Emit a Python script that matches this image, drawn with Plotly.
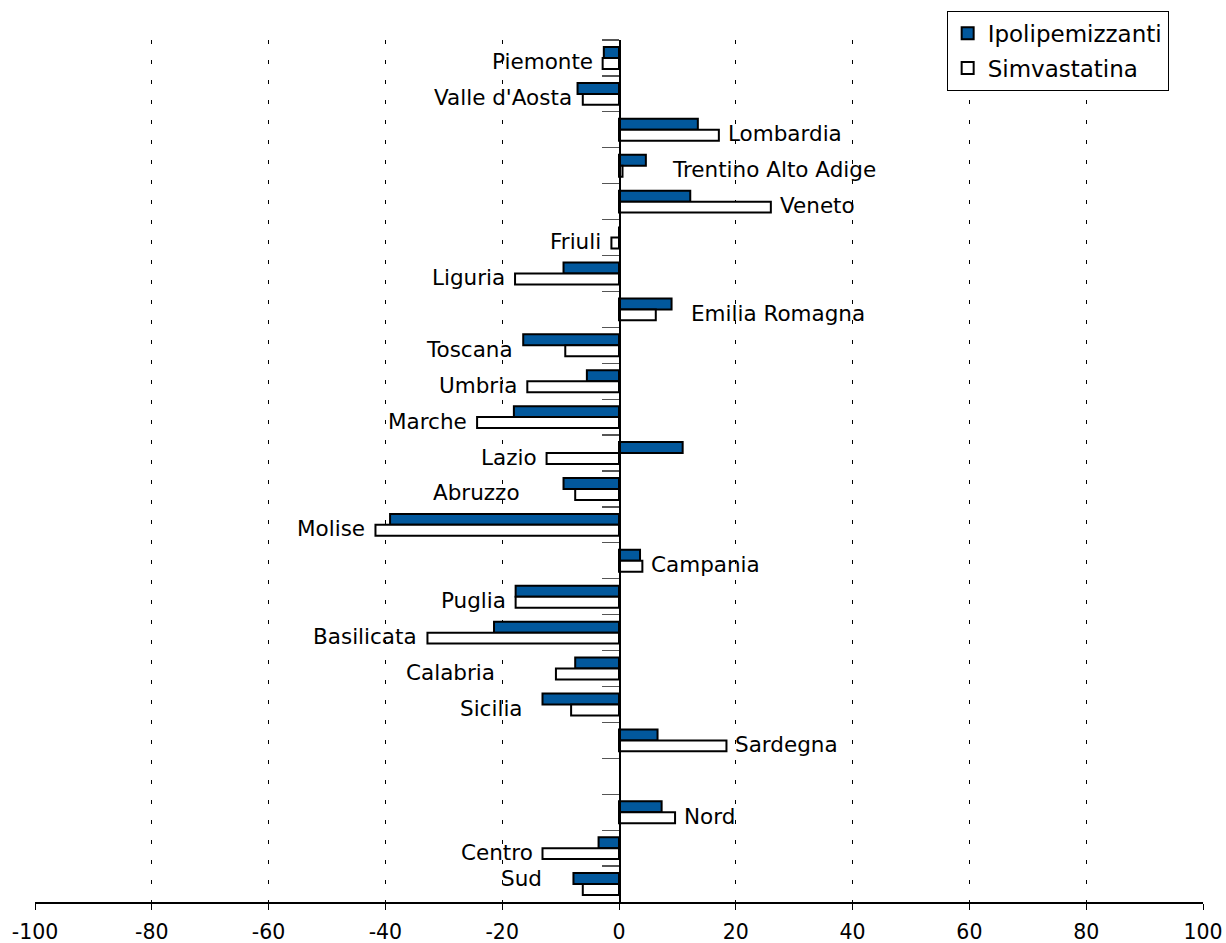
import plotly.graph_objects as go

# ---- data ----
categories = ["Piemonte", "Valle d'Aosta", "Lombardia", "Trentino Alto Adige", "Veneto",
              "Friuli", "Liguria", "Emilia Romagna", "Toscana", "Umbria", "Marche",
              "Lazio", "Abruzzo", "Molise", "Campania", "Puglia", "Basilicata",
              "Calabria", "Sicilia", "Sardegna", " ", "Nord", "Centro", "Sud"]
ipolipemizzanti = [-2.6, -7.1, 13.5, 4.6, 12.2, 0.0, -9.5, 9.0, -16.4, -5.5, -18.0,
                   10.9, -9.5, -39.2, 3.6, -17.7, -21.4, -7.5, -13.1, 6.6, None,
                   7.3, -3.5, -7.8]
simvastatina = [-2.8, -6.2, 17.1, 0.6, 26.0, -1.3, -17.8, 6.3, -9.2, -15.7, -24.3,
                -12.4, -7.5, -41.7, 4.0, -17.7, -32.8, -10.8, -8.2, 18.4, None,
                9.6, -13.1, -6.2]
x_ticks = [-100, -80, -60, -40, -20, 0, 20, 40, 60, 80, 100]

# label anchor overrides (data units) for labels placed away from their bars
label_x_override = {"Valle d'Aosta": -7.7, "Trentino Alto Adige": 8.7,
                    "Emilia Romagna": 12.0, "Abruzzo": -16.6, "Calabria": -20.9,
                    "Sicilia": -16.1, "Sud": -12.8}
label_yshift_override = {"Sud": 6}

BLUE = "#02589C"
FONT = "DejaVu Sans"

fig = go.Figure()
fig.add_trace(go.Bar(y=categories, x=ipolipemizzanti, orientation="h",
                     name="Ipolipemizzanti", legendgroup="a",
                     marker=dict(color=BLUE, line=dict(color="black", width=2))))
fig.add_trace(go.Bar(y=categories, x=simvastatina, orientation="h",
                     name="Simvastatina", legendgroup="b",
                     marker=dict(color="white", line=dict(color="black", width=2))))

annotations = []
for cat, a, b in zip(categories, ipolipemizzanti, simvastatina):
    if a is None:
        continue
    ysh = label_yshift_override.get(cat, -4)
    if cat in label_x_override:
        xv = label_x_override[cat]
        anchor = "left" if xv > 0 else "right"
        xsh = 0
    else:
        hi = max(a, b, 0)
        lo = min(a, b, 0)
        if hi > 0 and abs(hi) >= abs(lo):
            xv, anchor, xsh = hi, "left", 7
        else:
            xv, anchor, xsh = lo, "right", -8
    annotations.append(dict(x=xv, y=cat, xref="x", yref="y", text=cat,
                            showarrow=False, xanchor=anchor, yanchor="middle",
                            xshift=xsh, yshift=ysh,
                            font=dict(family=FONT, size=21.5, color="black")))

fig.update_layout(
    width=1226, height=943,
    margin=dict(l=35, r=23, t=40, b=41, autoexpand=False),
    paper_bgcolor="white", plot_bgcolor="white",
    barmode="group", bargap=0.39, bargroupgap=0,
    font=dict(family=FONT, size=20, color="black"),
    showlegend=True, hovermode=False,
    legend=dict(x=0.9706, y=1.034, xanchor="right", yanchor="top",
                bordercolor="black", borderwidth=1, bgcolor="white",
                font=dict(family=FONT, size=23, color="black"),
                traceorder="grouped", tracegroupgap=2),
    annotations=annotations,
)

fig.update_xaxes(range=[-100, 100], tickvals=x_ticks, ticktext=[str(v) for v in x_ticks],
                 showline=True, linecolor="black", linewidth=1.5,
                 ticks="outside", ticklen=6, tickcolor="black", tickwidth=1,
                 showgrid=True, gridcolor="black", gridwidth=1, griddash="4px,16px",
                 zeroline=False, ticklabelstandoff=5, automargin=False,
                 tickfont=dict(family=FONT, size=20.5, color="black"))
fig.update_yaxes(type="category", categoryorder="array", categoryarray=categories,
                 range=[len(categories) - 0.5, -0.5],
                 anchor="free", position=0.5, automargin=False,
                 showline=True, linecolor="black", linewidth=1.5,
                 ticks="outside", tickson="boundaries", ticklen=17,
                 tickcolor="#555555", tickwidth=1.2,
                 showticklabels=False, showgrid=False, zeroline=False)

# remove the default 8px page margin so the 1226x943 figure fills the window exactly
fig.write_html("out.html",
               config={"displayModeBar": False, "staticPlot": True},
               post_script="document.body.style.margin='0';"
                           "document.body.style.overflow='hidden';")
